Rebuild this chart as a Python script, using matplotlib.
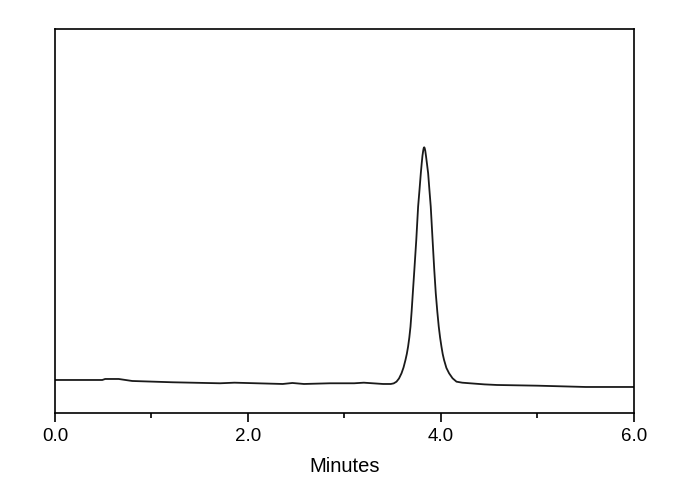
import matplotlib
matplotlib.use('Agg')
import matplotlib.pyplot as plt
from matplotlib.ticker import MultipleLocator

plt.rcParams['font.family'] = ['Liberation Sans', 'DejaVu Sans']

# retention time (min) and detector signal (arbitrary units)
minutes = [0.00, 0.49, 0.52, 0.66, 0.80, 1.22, 1.71, 1.86, 2.36, 2.46, 2.58,
           2.85, 3.10, 3.20, 3.40, 3.48, 3.51, 3.539, 3.565, 3.591, 3.612,
           3.632, 3.646, 3.659, 3.672, 3.684, 3.696, 3.708, 3.724, 3.744,
           3.763, 3.778, 3.791, 3.800, 3.808, 3.816, 3.821, 3.826, 3.831,
           3.837, 3.845, 3.855, 3.867, 3.880, 3.894, 3.913, 3.930, 3.946,
           3.962, 3.977, 3.991, 4.005, 4.018, 4.032, 4.056, 4.084, 4.120,
           4.161, 4.22, 4.30, 4.45, 4.58, 5.00, 5.50, 6.00]
signal = [32.7, 32.7, 33.7, 33.7, 31.7, 30.4, 29.4, 30.0, 28.7, 29.7, 28.7,
          29.4, 29.4, 30.0, 28.7, 28.7, 29.3, 31.0, 34.2, 39.4, 45.2,
          52.7, 58.8, 66.0, 75.2, 86.0, 101.5, 119.4, 142.7, 172.7,
          206.0, 223.5, 239.4, 249.0, 256.8, 262.2, 264.6, 265.4, 264.6,
          262.0, 256.5, 248.8, 239.4, 223.0, 206.0, 172.7, 143.5, 119.4,
          101.0, 86.0, 75.0, 66.0, 58.6, 52.7, 44.8, 39.4, 34.4,
          31.0, 30.0, 29.4, 28.3, 27.7, 27.0, 25.7, 25.7]

fig = plt.figure(figsize=(6.9, 4.9), dpi=100)
ax = fig.add_axes([0.0797, 0.1578, 0.8391, 0.7830])

ax.plot(minutes, signal, color='#1a1a1a', lw=1.3)

ax.set_xlim(0, 6)
ax.set_ylim(0, 383.7)
ax.xaxis.set_major_locator(MultipleLocator(2))
ax.xaxis.set_minor_locator(MultipleLocator(1))
ax.xaxis.set_major_formatter(plt.FormatStrFormatter('%.1f'))
ax.tick_params(axis='x', which='major', direction='out', length=6.5, width=1.2,
               labelsize=13.5, pad=4.5)
ax.tick_params(axis='x', which='minor', direction='out', length=3.6, width=1.2)
ax.set_yticks([])
for s in ax.spines.values():
    s.set_linewidth(1.2)

ax.set_xlabel('Minutes', fontsize=14.5, labelpad=9)

fig.savefig('out.png', dpi=100)
